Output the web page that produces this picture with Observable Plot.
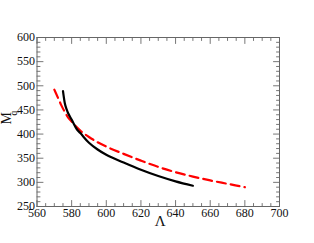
<!DOCTYPE html>
<html>
<head>
<meta charset="utf-8">
<script src="https://cdn.jsdelivr.net/npm/d3@7"></script>
<script src="https://cdn.jsdelivr.net/npm/@observablehq/plot@0.6"></script>
<style>
html,body{margin:0;padding:0;background:#fff;}
svg, svg text{font-family:"Liberation Serif","Times New Roman","DejaVu Serif",serif !important;}
</style>
</head>
<body>
<div id="chart"></div>
<script>
// Solid black curve
const blackLambda = [575, 576, 577, 578, 580, 583, 585, 590, 595, 600, 610, 620, 630, 640, 650];
const blackM      = [489, 465, 452, 443, 430, 410, 402, 382, 368, 357, 341, 326, 313, 302, 293];
// Dashed red curve
const redLambda = [570, 572, 574, 576, 578, 580, 583, 585, 590, 595, 600, 610, 620, 630, 640, 650, 660, 670, 680];
const redM      = [492, 476, 460, 446, 434, 426, 414, 407, 394, 383, 374, 359, 345, 332, 321, 312, 304, 297, 290];

const xMajor = [560, 580, 600, 620, 640, 660, 680, 700];
const yMajor = [250, 300, 350, 400, 450, 500, 550, 600];
const xMinor = d3.range(560, 701, 5).filter(v => v % 20 !== 0);
const yMinor = d3.range(250, 601, 10).filter(v => v % 50 !== 0);

const black = blackLambda.map((x, i) => ({x, y: blackM[i]}));
const red = redLambda.map((x, i) => ({x, y: redM[i]}));

const font = "Liberation Serif";
const tickColor = "#777";
const tickShape = {draw(ctx, l) { ctx.moveTo(0, 0); ctx.lineTo(0, -l); }};

function ticks(values, dim, len) {
  const out = [];
  const anchors = dim === "x" ? [["bottom", 0], ["top", 180]] : [["left", 90], ["right", -90]];
  for (const [fa, rot] of anchors) {
    out.push(Plot.vector(values, {
      [dim]: d => d, frameAnchor: fa, rotate: rot, length: len, anchor: "start",
      shape: tickShape, stroke: tickColor, strokeWidth: 1
    }));
  }
  return out;
}

const chart = Plot.plot({
  width: 314,
  height: 243,
  marginLeft: 36.5,
  marginRight: 35,
  marginTop: 37,
  marginBottom: 37,
  style: {fontFamily: font, background: "#fff"},
  x: {domain: [560, 700]},
  y: {domain: [250, 600]},
  marks: [
    ...ticks(xMinor, "x", 3),
    ...ticks(yMinor, "y", 3),
    ...ticks(xMajor, "x", 6),
    ...ticks(yMajor, "y", 6),
    Plot.axisX({ticks: xMajor, tickSize: 0, tickPadding: 2, fontSize: 12, fontFamily: font, fill: "#111", label: null, tickFormat: d => String(d)}),
    Plot.axisY({ticks: yMajor, tickSize: 0, tickPadding: 2, fontSize: 12, fontFamily: font, fill: "#111", label: null, tickFormat: d => String(d)}),
    Plot.frame({stroke: "#666", strokeWidth: 1}),
    Plot.line(red, {x: "x", y: "y", stroke: "#ff0000", strokeWidth: 2.2, strokeDasharray: "9,5", curve: "monotone-x"}),
    Plot.line(black, {x: "x", y: "y", stroke: "#000", strokeWidth: 2.2, curve: "monotone-x"}),
    Plot.text(["Λ"], {frameAnchor: "bottom", dy: 19, dx: 2, fontSize: 15, fontFamily: font, fill: "#111"}),
    Plot.text(["M"], {frameAnchor: "left", dx: -30, dy: 2.5, rotate: -90, fontSize: 14, fontFamily: font, fill: "#111"}),
    Plot.text(["q"], {frameAnchor: "left", dx: -23, dy: -6.5, rotate: -90, fontSize: 9.5, fontFamily: font, fill: "#111"})
  ]
});
document.getElementById("chart").appendChild(chart);
</script>
</body>
</html>
